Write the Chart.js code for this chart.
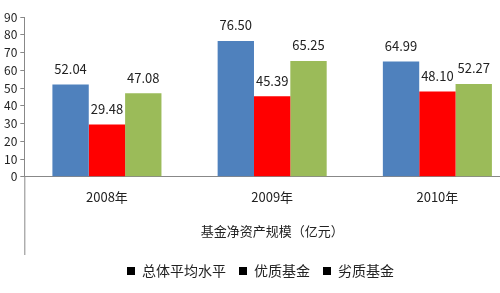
<!DOCTYPE html>
<html>
<head>
<meta charset="utf-8">
<script src="https://cdn.jsdelivr.net/npm/chart.js@4"></script>
<style>
  html, body { margin: 0; padding: 0; background: #fff; overflow: hidden; }
  #wrap { width: 520px; height: 293px; }
</style>
</head>
<body>
<div id="wrap"><canvas id="chart" width="520" height="293"></canvas></div>
<script>
'use strict'

const years = ['2008年', '2009年', '2010年'];
const seriesNames = ['总体平均水平', '优质基金', '劣质基金'];
const overall = [52.04, 76.50, 64.99];
const good = [29.48, 45.39, 48.10];
const poor = [47.08, 65.25, 52.27];
const yTicks = [0, 10, 20, 30, 40, 50, 60, 70, 80, 90];
const axisTitle = '基金净资产规模（亿元）';

const FONT = "'Noto Sans CJK SC', 'Noto Sans', sans-serif";

// value labels above each bar
const barLabels = {
    id: 'barLabels',
    afterDatasetsDraw(chart){
        const ctx = chart.ctx;
        ctx.save();
        ctx.font = '13px ' + FONT;
        ctx.fillStyle = '#222';
        ctx.textAlign = 'center';
        ctx.textBaseline = 'bottom';
        chart.data.datasets.forEach((ds, i) => {
            chart.getDatasetMeta(i).data.forEach((bar, j) => {
                ctx.fillText(ds.data[j].toFixed(2), bar.x, bar.y - 9);
            });
        });
        ctx.restore();
    }
};

// the y axis line runs on down past the x axis
const axisTail = {
    id: 'axisTail',
    afterDraw(chart){
        const ctx = chart.ctx;
        const x = chart.scales.y.right;
        ctx.save();
        ctx.strokeStyle = '#888';
        ctx.lineWidth = 1;
        ctx.beginPath();
        ctx.moveTo(x + 0.5, chart.chartArea.bottom);
        ctx.lineTo(x + 0.5, chart.legend.top + 4);
        ctx.stroke();
        ctx.restore();
    }
};

chartIt();

function chartIt(){
    const ctx = document.getElementById('chart').getContext('2d');

    new Chart(ctx, {
        type: 'bar',
        data: {
            labels: years,
            datasets: [
                { label: seriesNames[0], data: overall, backgroundColor: '#4F81BD' },
                { label: seriesNames[1], data: good, backgroundColor: '#FF0000' },
                { label: seriesNames[2], data: poor, backgroundColor: '#9BBB59' }
            ]
        },
        options: {
            responsive: false,
            animation: false,
            layout: { padding: { top: 17, left: 1, right: 0, bottom: 5 } },
            datasets: { bar: { barPercentage: 1, categoryPercentage: 0.66 } },
            scales: {
                x: {
                    grid: { display: false, drawTicks: false },
                    border: { color: '#888', width: 1 },
                    ticks: { font: { family: FONT, size: 13 }, color: '#222', padding: 12 },
                    title: {
                        display: true,
                        text: axisTitle,
                        font: { family: FONT, size: 13 },
                        color: '#222',
                        padding: { top: 7, bottom: 12 }
                    }
                },
                y: {
                    min: 0,
                    max: 90,
                    afterBuildTicks(scale){
                        scale.ticks = yTicks.map(v => ({ value: v }));
                    },
                    grid: { drawOnChartArea: false, drawTicks: true, tickLength: 4, color: '#888' },
                    border: { color: '#888', width: 1 },
                    ticks: { font: { family: FONT, size: 12 }, color: '#222', padding: 3 }
                }
            },
            plugins: {
                legend: {
                    position: 'bottom',
                    labels: {
                        font: { family: FONT, size: 14 },
                        color: '#222',
                        boxWidth: 8,
                        boxHeight: 8,
                        padding: 13,
                        generateLabels(chart){
                            return Chart.defaults.plugins.legend.labels.generateLabels(chart).map(item => {
                                item.fillStyle = '#000';
                                item.strokeStyle = '#000';
                                item.lineWidth = 0;
                                return item;
                            });
                        }
                    }
                },
                tooltip: { enabled: false }
            }
        },
        plugins: [barLabels, axisTail]
    });
}
</script>
</body>
</html>
